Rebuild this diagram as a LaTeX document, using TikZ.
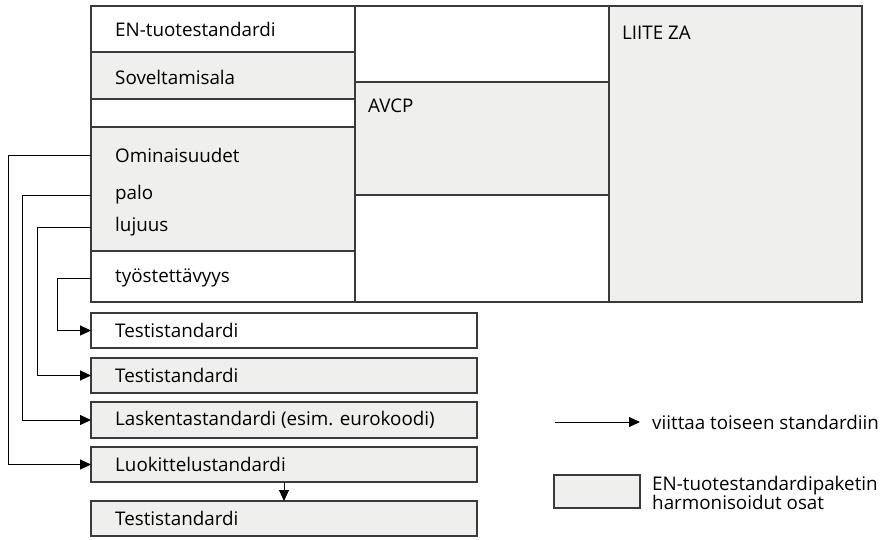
\documentclass[tikz,border=0pt]{standalone}
\usepackage{fontspec}
\setmainfont{Open Sans}
\usetikzlibrary{arrows.meta}
\definecolor{boxgray}{HTML}{EFEFED}
\definecolor{edge}{HTML}{3A3A3A}
\tikzset{
 cell/.style={draw=edge, line width=1.1pt, anchor=north west, inner sep=0pt, outer sep=0pt},
 hcell/.style={cell, fill=boxgray},
 wcell/.style={cell, fill=white},
 lbl/.style={anchor=west, inner sep=0pt, font=\fontsize{18.8}{19}\selectfont},
 arr/.style={draw=black, line width=1pt, -{Triangle[length=11pt,width=10pt]}},
}
\begin{document}
\begin{tikzpicture}[x=1pt,y=-1pt]
\useasboundingbox (0,0) rectangle (885,539);
% column 1
\node[wcell, minimum width=264pt, minimum height=46pt] (en) at (91,6) {};
\node[hcell, minimum width=264pt, minimum height=47pt] (sov) at (91,52) {};
\node[wcell, minimum width=264pt, minimum height=28pt] (emp) at (91,99) {};
\node[hcell, minimum width=264pt, minimum height=124pt] (omi) at (91,127) {};
\node[wcell, minimum width=264pt, minimum height=51pt] (tyo) at (91,251) {};
% column 2
\node[wcell, minimum width=254pt, minimum height=76pt] (c2a) at (355,6) {};
\node[hcell, minimum width=254pt, minimum height=113pt] (avcp) at (355,82) {};
\node[wcell, minimum width=254pt, minimum height=107pt] (c2b) at (355,195) {};
% column 3
\node[hcell, minimum width=253pt, minimum height=296pt] (liite) at (609,6) {};
% labels
\node[lbl] (entxt) at (115,29) {EN-tuotestandardi};
\node[lbl] (sovtxt) at (115,77) {Soveltamisala};
\node[lbl] (omitxt) at (115,155) {Ominaisuudet};
\node[lbl] (palotxt) at (115,195) {palo};
\node[lbl] (lujtxt) at (115,227) {lujuus};
\node[lbl] (tyotxt) at (115,278) {työstettävyys};
\node[lbl] (avcptxt) at (368,106) {AVCP};
\node[lbl] (liitetxt) at (622,33) {LIITE ZA};
% lower boxes
\node[wcell, minimum width=386pt, minimum height=35pt] (t1) at (91,313) {};
\node[hcell, minimum width=386pt, minimum height=35pt] (t2) at (91,358) {};
\node[hcell, minimum width=386pt, minimum height=36pt] (lask) at (91,402) {};
\node[hcell, minimum width=386pt, minimum height=35pt] (luok) at (91,447) {};
\node[hcell, minimum width=386pt, minimum height=35pt] (t3) at (91,501) {};
\node[lbl] at ([xshift=24pt]t1.west) {Testistandardi};
\node[lbl] at ([xshift=24pt]t2.west) {Testistandardi};
\node[lbl] at ([xshift=24pt]lask.west) {Laskentastandardi (esim. eurokoodi)};
\node[lbl] at ([xshift=24pt]luok.west) {Luokittelustandardi};
\node[lbl] at ([xshift=24pt]t3.west) {Testistandardi};
% connectors
\draw[arr] (omitxt.west -| omi.west) -- ++(-83,0) |- (luok.west);
\draw[arr] (palotxt.west -| omi.west) -- ++(-69,0) |- (lask.west);
\draw[arr] (lujtxt.west -| omi.west) -- ++(-54,0) |- (t2.west);
\draw[arr] (tyotxt.west -| tyo.west) -- ++(-34,0) |- (t1.west);
\draw[arr] (luok.south) -- (t3.north);
% legend
\node[lbl] (legarrtxt) at (652,422) {viittaa toiseen standardiin};
\coordinate (legstart) at (555,422);
\draw[arr] (legstart) -- ([xshift=-12pt]legarrtxt.west);
\node[hcell, minimum width=86pt, minimum height=33pt] (legbox) at (554,475) {};
\node[lbl, align=left, font=\fontsize{18.8}{17.5}\selectfont] (legtxt) at (652,493) {EN-tuotestandardipaketin\\harmonisoidut osat};
\end{tikzpicture}
\end{document}
